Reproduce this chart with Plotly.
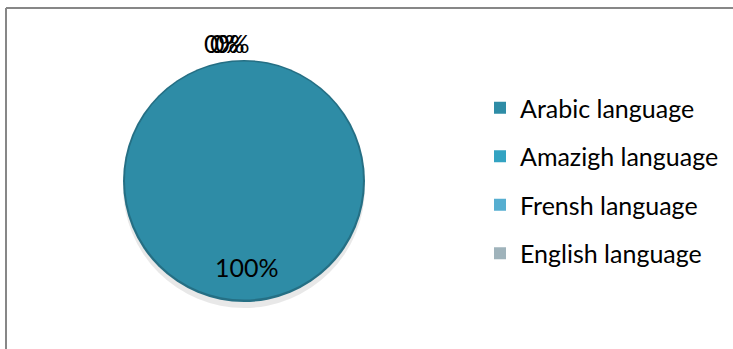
import plotly.graph_objects as go

categories = ["Arabic language", "Amazigh language", "Frensh language", "English language"]
values = [100, 0, 0, 0]
colors = ["#2e8ca6", "#33a3c2", "#56aed0", "#9fb3bb"]

W, H = 733, 349
FONT = "Lato"
FS = 25

total = sum(values)
pct = [f"{round(v / total * 100)}%" for v in values]

cx, cy, r = 244, 181, 121


def dom(cx, cy, r):
    return dict(x=[(cx - r) / W, (cx + r) / W], y=[(H - cy - r) / H, (H - cy + r) / H])


fig = go.Figure()

# soft shadow below the pie
fig.add_trace(go.Pie(values=values, labels=categories, domain=dom(cx, cy + 6, r),
                     marker=dict(colors=["rgba(0,0,0,0.09)"] * 4, line=dict(width=0)),
                     textinfo="none", showlegend=False, hoverinfo="skip", sort=False))
# darker rim
fig.add_trace(go.Pie(values=values, labels=categories, domain=dom(cx, cy, r),
                     marker=dict(colors=["#256f84"] * 4, line=dict(width=0)),
                     textinfo="none", showlegend=False, hoverinfo="skip", sort=False))
fig.add_trace(go.Pie(values=values, labels=categories, domain=dom(cx, cy - 0.5, r - 2),
                     marker=dict(colors=colors, line=dict(width=0)),
                     textinfo="none", showlegend=False, sort=False, direction="clockwise"))

# legend entries
for i, (c, col) in enumerate(zip(categories, colors)):
    fig.add_trace(go.Scatter(x=[None], y=[None], mode="markers", name=c,
                             marker=dict(symbol="square", size=12, color=col),
                             legendgroup=f"g{i}", showlegend=True))

# percentage labels
zero_x = [222, 227, 232]
zi = 0
for v, p in zip(values, pct):
    if v == 0:
        fig.add_annotation(x=zero_x[zi] / W, y=(H - 43) / H, xref="paper", yref="paper",
                           xanchor="center", yanchor="middle",
                           text=p, showarrow=False, font=dict(family=FONT, size=FS, color="black"))
        zi += 1
    else:
        fig.add_annotation(x=247 / W, y=(H - 267) / H, xref="paper", yref="paper",
                           xanchor="center", yanchor="middle",
                           text=p, showarrow=False, font=dict(family=FONT, size=FS, color="black"))

# frame
fig.add_shape(type="line", xref="paper", yref="paper", x0=6 / W, x1=1, y0=(H - 8) / H, y1=(H - 8) / H,
              line=dict(color="#878787", width=2))
fig.add_shape(type="line", xref="paper", yref="paper", x0=6 / W, x1=6 / W, y0=(H - 8) / H, y1=0,
              line=dict(color="#878787", width=2))

fig.update_layout(
    width=W, height=H, margin=dict(l=0, r=0, t=0, b=0),
    paper_bgcolor="white", plot_bgcolor="white",
    xaxis=dict(visible=False), yaxis=dict(visible=False),
    font=dict(family=FONT, size=FS, color="black"),
    legend=dict(x=480 / W, y=(H - 85) / H, xanchor="left", yanchor="top",
                tracegroupgap=13, font=dict(family=FONT, size=FS, color="black"),
                bgcolor="rgba(0,0,0,0)"),
)

fig.write_html("out.html", config={"displayModeBar": False},
               post_script="document.body.style.margin='0';document.body.style.overflow='hidden';")
